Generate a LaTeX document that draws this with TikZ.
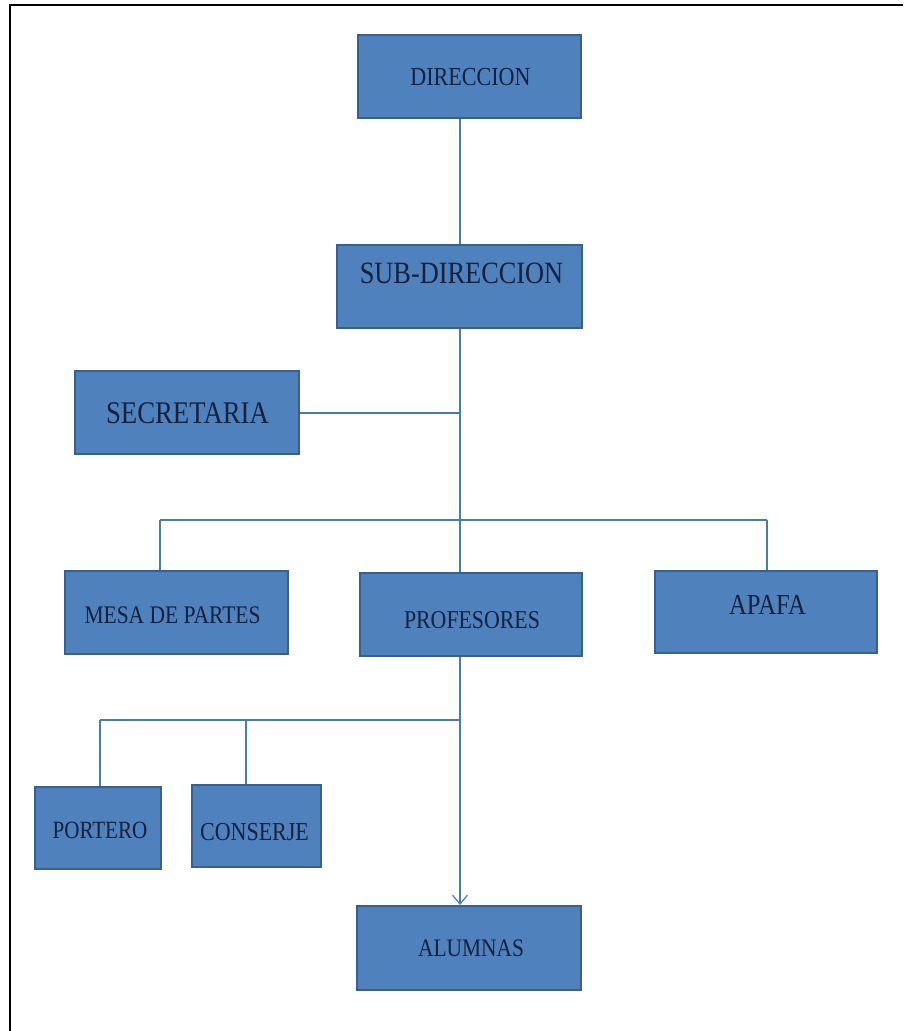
\documentclass[tikz,border=0pt]{standalone}
\usepackage{fontspec}
\setmainfont{Liberation Serif}
\usetikzlibrary{arrows.meta}
\definecolor{boxfill}{HTML}{4F81BD}
\definecolor{boxedge}{HTML}{3A5F8E}
\definecolor{linkblue}{HTML}{4A7AB5}
\definecolor{labelink}{HTML}{14213F}
% condensed serif caption inside a box
\newcommand{\boxcaption}[2]{\fontsize{#1}{#1}\selectfont\scalebox{0.85}[1]{#2}}
\tikzset{
  unitbox/.style={draw=boxedge, line width=2pt, fill=boxfill, rectangle, inner sep=0pt},
  caption/.style={text=labelink, inner sep=0pt, anchor=center},
  link/.style={draw=linkblue, line width=1.3pt},
  tiplink/.style={link, -{Straight Barb[length=9pt, width=15pt, line width=1.2pt]}}
}
\begin{document}
\begin{tikzpicture}[x=1pt, y=-1pt]
  \useasboundingbox (0,0) rectangle (903,1031);
  % page frame (top and left edges)
  \draw[line width=2pt, black] (10,1031) -- (10,4.5) -- (903,4.5);

  % boxes
  \node[unitbox, minimum width=223pt, minimum height=83pt] (dir)  at (469.5,76.5) {};
  \node[unitbox, minimum width=245pt, minimum height=83pt] (sub)  at (459.5,286.5) {};
  \node[unitbox, minimum width=224pt, minimum height=83pt] (sec)  at (187,412.5) {};
  \node[unitbox, minimum width=223pt, minimum height=83pt] (mesa) at (176.5,612.5) {};
  \node[unitbox, minimum width=222pt, minimum height=83pt] (prof) at (471,614.5) {};
  \node[unitbox, minimum width=222pt, minimum height=82pt] (apafa) at (766,612) {};
  \node[unitbox, minimum width=126pt, minimum height=82pt] (port) at (98,828) {};
  \node[unitbox, minimum width=129pt, minimum height=82pt] (cons) at (256.5,826) {};
  \node[unitbox, minimum width=224pt, minimum height=84pt] (alum) at (469,948) {};

  % captions
  \node[caption] (tdir)   at (470.5,77)  {\boxcaption{26}{DIRECCION}};
  \node[caption] (tsub)   at (461.5,273) {\boxcaption{31}{SUB-DIRECCION}};
  \node[caption] (tsec)   at (187.5,413) {\boxcaption{31.5}{SECRETARIA}};
  \node[caption] (tmesa)  at (172.5,615) {\boxcaption{25.3}{MESA DE PARTES}};
  \node[caption] (tprof)  at (472,620)   {\boxcaption{25.7}{PROFESORES}};
  \node[caption] (tapafa) at (767.5,605) {\boxcaption{29}{APAFA}};
  \node[caption] (tport)  at (100,830)   {\boxcaption{24.8}{PORTERO}};
  \node[caption] (tcons)  at (254.5,832) {\boxcaption{25.9}{CONSERJE}};
  \node[caption] (talum)  at (471,948)   {\boxcaption{25.2}{ALUMNAS}};

  % junction points of the tree
  \coordinate (secjoin)  at (460,413);
  \coordinate (staffbar) at (460,520);
  \coordinate (staffL)   at (160,520);
  \coordinate (staffR)   at (767,520);
  \coordinate (lowbar)   at (460,720);
  \coordinate (lowL)     at (100,720);
  \coordinate (lowM)     at (246,720);

  % connectors
  \draw[link] (dir.south -| secjoin) -- (sub.north -| secjoin);
  \draw[link] (sub.south -| secjoin) -- (prof.north -| secjoin);
  \draw[link] (sec.east |- secjoin) -- (secjoin);
  \draw[link] (staffL) -- (staffR);
  \draw[link] (staffL) -- (mesa.north -| staffL);
  \draw[link] (staffR) -- (apafa.north -| staffR);
  \draw[tiplink] (prof.south -| lowbar) -- (alum.north -| lowbar);
  \draw[link] (lowL) -- (lowbar);
  \draw[link] (lowL) -- (port.north -| lowL);
  \draw[link] (lowM) -- (cons.north -| lowM);
\end{tikzpicture}
\end{document}
